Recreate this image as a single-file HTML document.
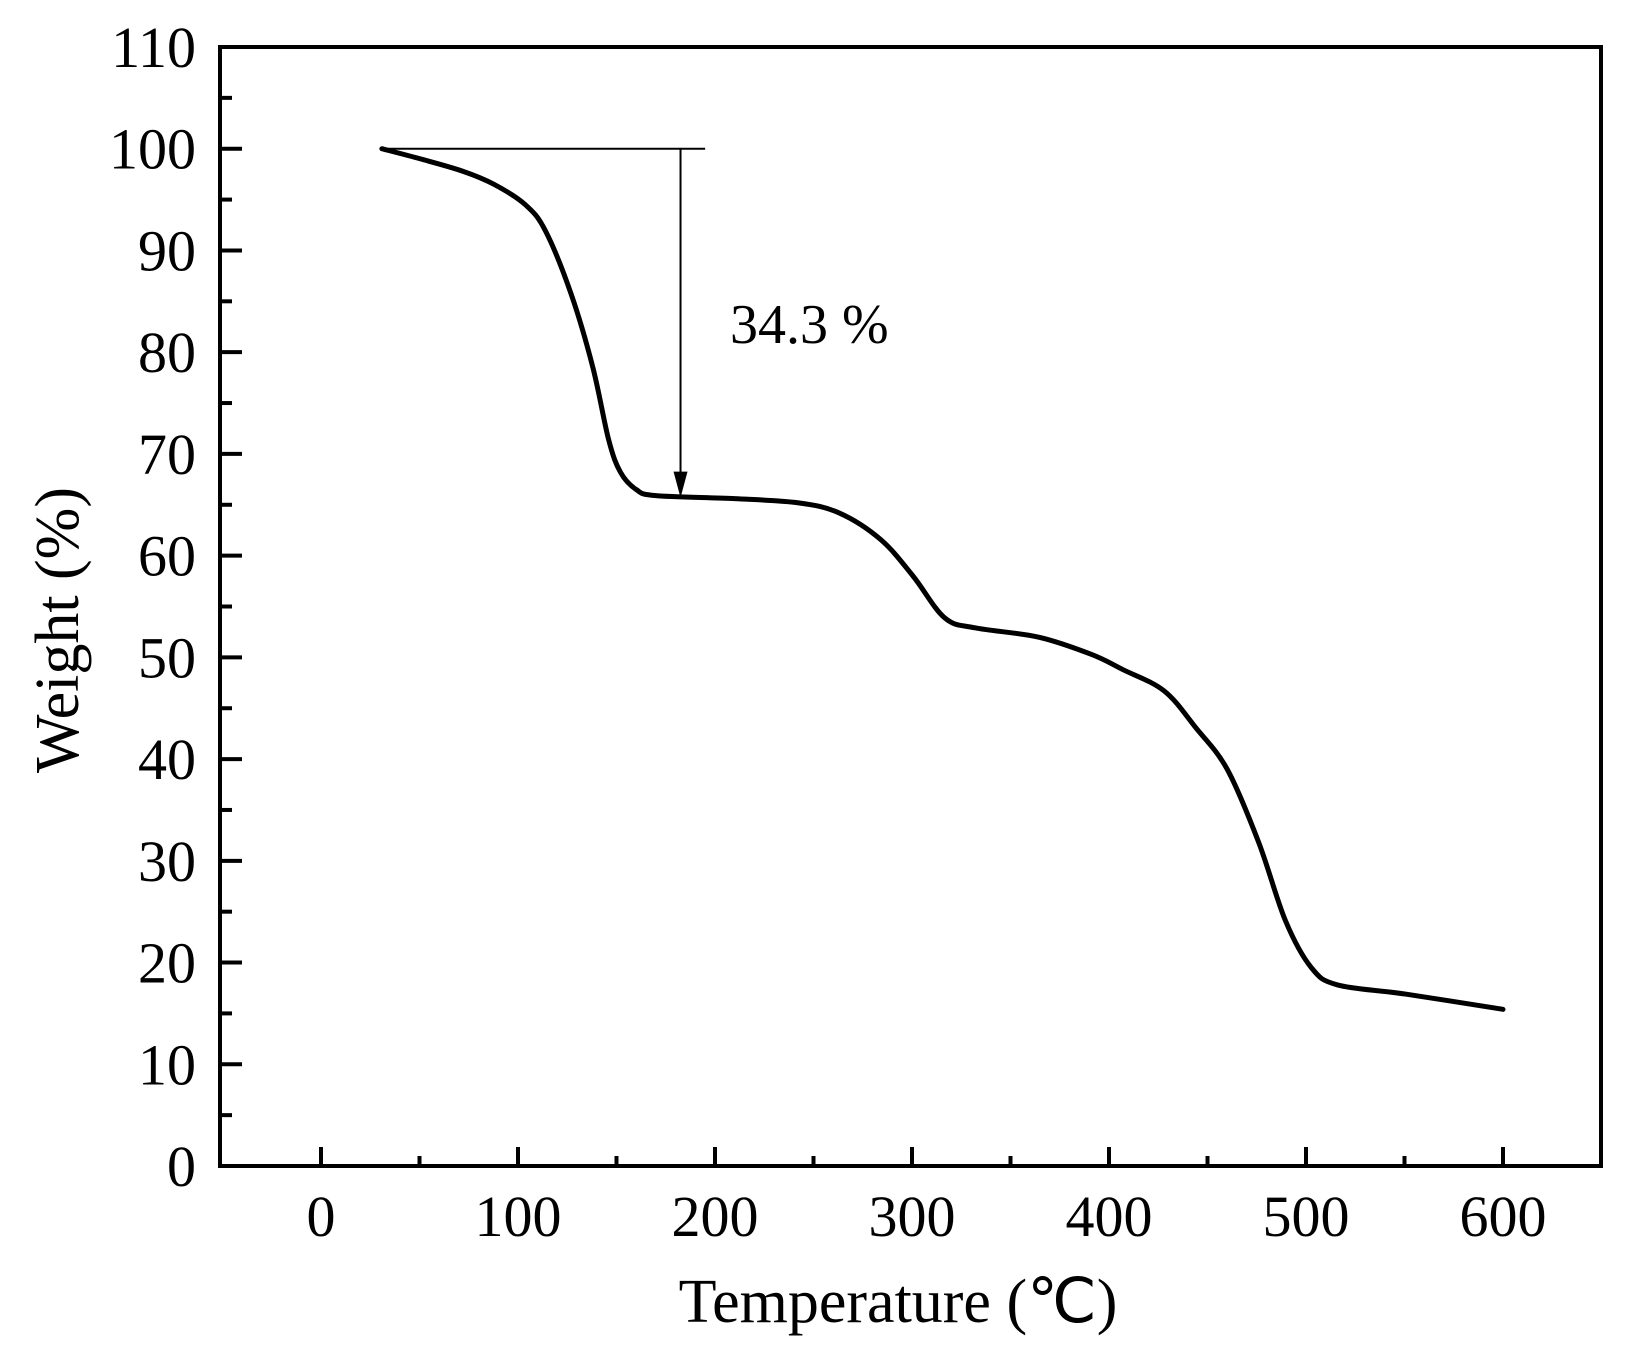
<!DOCTYPE html>
<html><head><meta charset="utf-8"><style>
html,body{margin:0;padding:0;background:#fff;}
svg{display:block;font-family:"Liberation Serif",serif;}
</style></head><body>
<svg id="chart" width="1638" height="1356"></svg>
<script>
const temps=[30.9,50.5,71.8,87.8,103.7,114,127,138,146,152,160,170,210,242,263,284,300.5,316.5,332,364,391,407,428,444,460,476,489.6,502.7,516,550.5,600];
const weights=[100,99.0,97.8,96.5,94.5,91.9,85.7,78.5,71.4,68.2,66.5,65.9,65.6,65.2,64.2,61.6,58,53.9,52.9,52,50.3,48.8,46.7,43.1,39,31.8,24.1,19.5,17.8,16.9,15.4];
const xTicks=[0,100,200,300,400,500,600];
const yTicks=[0,10,20,30,40,50,60,70,80,90,100,110];
const annTop=100, annBottom=65.7, annX=182.5, annLineEnd=195, annStart=30;
const annLabel="34.3 %";
const L=220,R=1601,T=47,B=1166;
const x=v=>321+(v)*1.97;
const y=v=>B-v/110*(B-T);
const svg=document.getElementById('chart');
const NS='http://www.w3.org/2000/svg';
function mk(t,a){const e=document.createElementNS(NS,t);for(const k in a)e.setAttribute(k,a[k]);svg.appendChild(e);return e;}
let e;
e=mk('rect',{x:L,y:T,width:R-L,height:B-T,fill:'none',stroke:'#000','stroke-width':4});


xTicks.forEach((v,i)=>{
  e=mk('line',{x1:x(v),x2:x(v),y1:B,y2:B-19,stroke:'#000','stroke-width':4});
  
  
  if(i<xTicks.length-1){
    e=mk('line',{x1:x(v+50),x2:x(v+50),y1:B,y2:B-10,stroke:'#000','stroke-width':4});
    
    
  }
  e=mk('text',{x:x(v),y:1236,'font-size':58,'text-anchor':'middle'});e.textContent=v;
  
  
});
yTicks.forEach((v,i)=>{
  e=mk('line',{x1:L,x2:L+22,y1:y(v),y2:y(v),stroke:'#000','stroke-width':4});
  
  
  if(i<yTicks.length-1){
    e=mk('line',{x1:L,x2:L+12,y1:y(v+5),y2:y(v+5),stroke:'#000','stroke-width':4});
    
    
  }
  e=mk('text',{x:196,y:y(v)+20,'font-size':58,'text-anchor':'end'});e.textContent=v;
  
  
});
e=mk('text',{x:898,y:1322,'font-size':62,'text-anchor':'middle'});e.textContent='Temperature (℃)';


e=mk('text',{x:0,y:0,'font-size':62,'text-anchor':'middle',transform:'translate(78,630) rotate(-90)'});e.textContent='Weight (%)';


const P=temps.map((t,i)=>[x(t),y(weights[i])]);
let d='M'+P[0][0]+','+P[0][1];
for(let i=0;i<P.length-1;i++){
  const p0=P[Math.max(0,i-1)],p1=P[i],p2=P[i+1],p3=P[Math.min(P.length-1,i+2)];
  d+=' C'+(p1[0]+(p2[0]-p0[0])/6)+','+(p1[1]+(p2[1]-p0[1])/6)+' '+(p2[0]-(p3[0]-p1[0])/6)+','+(p2[1]-(p3[1]-p1[1])/6)+' '+p2[0]+','+p2[1];
}
e=mk('path',{d:d,fill:'none',stroke:'#000','stroke-width':5,'stroke-linejoin':'round','stroke-linecap':'round'});


e=mk('line',{x1:x(annStart),x2:x(annLineEnd),y1:y(annTop),y2:y(annTop),stroke:'#000','stroke-width':2});


e=mk('line',{x1:x(annX),x2:x(annX),y1:y(annTop),y2:y(annBottom)-22,stroke:'#000','stroke-width':2});


const ax=x(annX),ay=y(annBottom);
e=mk('polygon',{points:(ax-7)+','+(ay-26)+' '+(ax+7)+','+(ay-26)+' '+ax+','+ay,fill:'#000'});


e=mk('text',{x:730,y:343,'font-size':56});e.textContent=annLabel;


</script>
</body></html>
